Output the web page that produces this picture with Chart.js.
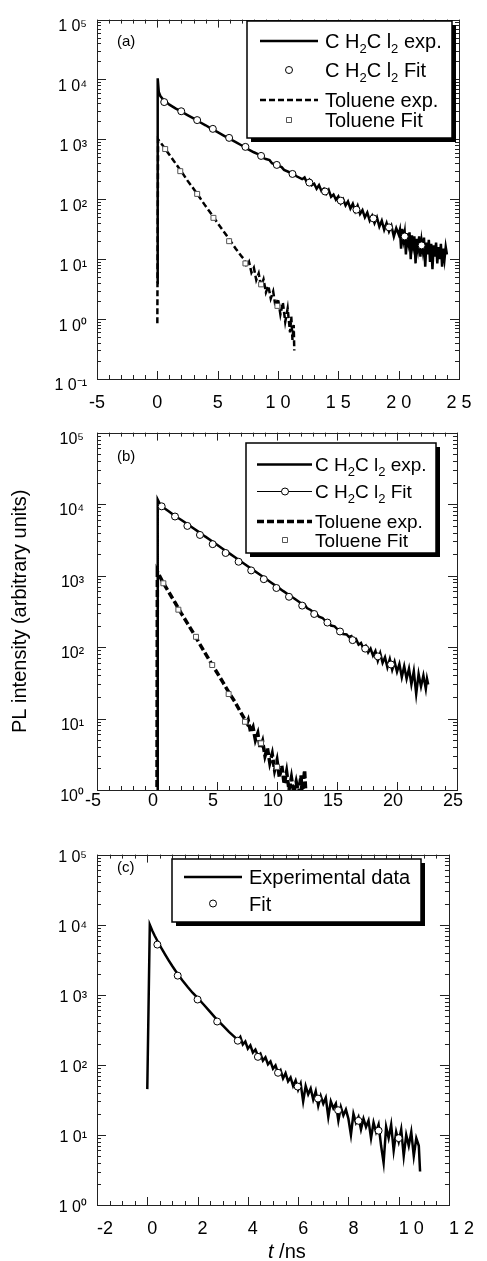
<!DOCTYPE html>
<html>
<head>
<meta charset="utf-8">
<script src="https://cdn.jsdelivr.net/npm/chart.js@4.4.1/dist/chart.umd.min.js"></script>
<style>
  html, body { margin: 0; padding: 0; background: #fff; }
  #wrap { position: relative; width: 487px; height: 1261px; }
  canvas { position: absolute; left: 0; }
</style>
</head>
<body>
<div id="wrap">
  <canvas id="chartA" width="487" height="410" style="top:0"></canvas>
  <canvas id="chartB" width="487" height="425" style="top:410px"></canvas>
  <canvas id="chartC" width="487" height="426" style="top:835px"></canvas>
</div>
<script>
// PL decays, three panels. values are [t (ns), intensity]

// --- panel (a)
const aCh2Exp = [[0,4],[0.03,10500],[0.12,6200],[0.25,5300],[0.5,4600],[1,3800],[1.5,3300],[2,2900],[2.5,2550],[3,2250],[3.5,1950],[4,1720],[4.5,1500],[5,1320],[5.5,1160],[6,1020],[6.5,900],[7,790],[7.5,690],[8,610],[8.4,560],[8.6,510],[9,470],[9.3,450],[9.5,400],[10,365],[10.3,345],[10.5,310],[11,280],[11.3,270],[11.5,245],[12,217],
  [12.2,232],[12.4,190],[12.6,212],[12.8,172],[13,182],[13.2,150],[13.4,172],[13.6,138],[13.8,150],[14,124],[14.2,144],[14.4,110],[14.6,120],[14.8,98],[15,112],[15.2,86],[15.4,100],[15.6,79],[15.8,92],[16,70],[16.2,84],[16.4,63],[16.6,78],[16.8,57],[17,66],[17.2,50],[17.4,60],[17.6,44],[17.8,53],[18,40],[18.2,50],[18.4,35],[18.6,44],[18.8,31],[19,40],[19.2,29],[19.4,36],[19.6,24],[19.8,33],[20,26],
  [20.1,31],[20.2,15],[20.3,32],[20.4,21],[20.5,28],[20.6,12],[20.7,27],[20.8,19],[20.9,28],[21,10],[21.1,25],[21.2,17],[21.3,24],[21.4,8.5],[21.5,22],[21.6,15],[21.7,24],[21.8,11],[21.9,20],[22,14],[22.1,23],[22.2,7.5],[22.3,19],[22.4,12],[22.5,21],[22.6,9],[22.7,18],[22.8,6.8],[22.9,17],[23,11],[23.1,19],[23.2,8.5],[23.3,16],[23.4,10],[23.5,18],[23.6,7.5],[23.7,15],[23.8,10],[23.9,16],[24,12]];
const aCh2Fit = [[0.57,4200],[1.98,2950],[3.3,2100],[4.6,1500],[5.95,1060],[7.3,750],[8.6,530],[9.9,375],[11.2,265],[12.6,190],[13.9,135],[15.2,95],[16.5,67],[17.9,48],[19.2,34],[20.5,24],[21.9,17]];
const aTolExp = [[0,0.85],[0.06,1000],[0.3,870],[0.6,720],[1,555],[1.5,400],[2,290],[2.5,205],[3,150],[3.5,108],[4,77],[4.5,56],[5,40],[5.5,29],[6,21],[6.5,15],[7,11],[7.2,10],[7.4,7.5],[7.6,9],[7.8,6],[8,7.2],[8.2,4.5],[8.4,5.8],[8.6,3.5],[8.8,4.6],[9,2.8],[9.2,3.6],[9.4,2.2],[9.6,2.9],[9.8,1.6],[10,2.2],[10.2,1.2],[10.4,1.9],[10.6,0.9],[10.8,1.5],[11,0.6],[11.1,1.1],[11.2,0.45],[11.3,0.8],[11.35,0.3]];
const aTolFit = [[0.65,690],[1.9,295],[3.3,123],[4.65,49],[5.95,20],[7.3,8.5],[8.6,3.8],[9.95,1.66]];

// --- panel (b)
const bCh2Exp = [[0,1],[0.06,11500],[0.2,10300],[0.5,9000],[1,7900],[1.5,6800],[2,6050],[2.5,5300],[3,4620],[3.5,4050],[4,3530],[4.5,3100],[5,2700],[5.5,2360],[6,2060],[6.5,1800],[7,1570],[7.5,1370],[8,1200],[8.5,1050],[9,920],[9.5,800],[10,700],[10.5,610],[11,535],[11.5,470],[12,410],[12.3,395],[12.5,350],[12.8,330],[13,310],[13.3,290],[13.5,265],[13.8,255],[14,235],[14.3,222],[14.5,200],[14.8,195],[15,180],[15.3,170],[15.5,152],[15.8,150],[16,138],[16.2,142],[16.4,120],[16.6,128],[16.8,108],[17,114],[17.2,95],[17.4,104],[17.6,84],[17.8,95],[18,76],[18.2,88],[18.4,64],[18.6,82],[18.8,60],[19,72],[19.2,52],[19.4,68],[19.6,48],[19.8,62],[20,45],[20.2,58],[20.4,38],[20.6,54],[20.8,36],[21,50],[21.2,30],[21.4,46],[21.6,22],[21.8,42],[22,28],[22.2,40],[22.4,26],[22.5,36],[22.6,30]];
const bCh2Fit = [[0.39,9300],[1.5,6700],[2.53,4950],[3.58,3700],[4.64,2750],[5.72,2070],[6.8,1560],[7.85,1180],[8.9,890],[9.95,670],[11,505],[12.1,380],[13.1,290],[14.2,220],[15.25,165],[16.3,125],[17.35,95],[18.4,74],[19.5,57]];
const bTolExp = [[0,0.8],[0.03,1150],[0.2,1000],[0.5,800],[1,580],[1.5,420],[2,300],[2.5,220],[3,160],[3.5,115],[4,83],[4.5,60],[5,44],[5.5,32],[6,23],[6.5,17],[7,12],[7.5,8.6],[7.6,9.5],[7.8,6.5],[8,7.6],[8.2,5],[8.4,6.2],[8.6,3.8],[8.8,4.8],[9,3],[9.2,3.9],[9.4,2.4],[9.6,3.2],[9.8,1.9],[10,2.6],[10.2,1.5],[10.4,2.2],[10.6,1.2],[10.8,1.8],[11,1],[11.2,1.5],[11.4,0.9],[11.6,1.3],[11.8,0.9],[12,1.6],[12.1,0.8],[12.3,1.9],[12.4,0.9]];
const bTolFit = [[0.53,780],[1.78,333],[3.25,139],[4.6,56],[5.97,22],[7.33,9],[8.67,4.5],[10,2.1]];

// --- panel (c)
const cExp = [[0,45],[0.1,10000],[0.2,8200],[0.3,6900],[0.4,5900],[0.55,4700],[0.7,3800],[0.85,3100],[1,2550],[1.2,2000],[1.4,1600],[1.6,1300],[1.8,1070],[2,900],[2.25,720],[2.5,570],[2.75,450],[3,365],[3.25,295],[3.5,245],
  [3.6,225],[3.7,250],[3.8,195],[3.9,215],[4,170],[4.1,190],[4.2,150],[4.3,165],[4.4,135],[4.5,145],[4.6,115],[4.7,128],[4.8,102],[4.9,112],[5,88],[5.1,98],[5.2,76],[5.3,84],[5.4,64],[5.5,76],[5.6,58],[5.7,66],[5.8,50],[5.9,60],[6,44],[6.1,54],[6.2,30],[6.3,50],[6.4,38],[6.5,46],[6.6,32],[6.7,42],[6.8,26],[6.9,36],[7,28],[7.1,34],[7.2,18],[7.3,30],[7.4,24],[7.5,28],[7.6,16],[7.7,25],[7.8,19],[7.9,23],[8,17],[8.1,10],[8.2,20],[8.3,15],[8.4,18],[8.5,12],[8.6,17],[8.7,13],[8.8,16],[8.9,9],[9,15],[9.1,11],[9.2,14],[9.3,7],[9.4,4],[9.5,13],[9.6,9],[9.7,14],[9.8,6],[9.9,11],[10,8],[10.1,12],[10.2,5],[10.3,10],[10.4,7],[10.5,11],[10.6,5],[10.7,9],[10.8,7],[10.85,3]];
const cFit = [[0.4,5200],[1.21,1875],[2,855],[2.78,415],[3.6,221],[4.4,130],[5.2,77],[5.98,49],[6.79,33],[7.59,22.5],[8.4,15.9],[9.2,11.5],[10,9]];

// tick labels
const xTicksA = [-5, 0, 5, 10, 15, 20, 25];
const xLabelsA = ['-5', '0', '5', '1 0', '1 5', '2 0', '2 5'];
const xLabelsB = ['-5', '0', '5', '10', '15', '20', '25'];
const xTicksC = [-2, 0, 2, 4, 6, 8, 10, 12];
const xLabelsC = ['-2', '0', '2', '4', '6', '8', '1 0', '1 2'];
const yTicksA = [0.1, 1, 10, 100, 1000, 10000, 100000];
const yLabelsA = ['1 0⁻¹', '1 0⁰', '1 0¹', '1 0²', '1 0³', '1 0⁴', '1 0⁵'];
const yTicksBC = [1, 10, 100, 1000, 10000, 100000];
const yLabelsB = ['10⁰', '10¹', '10²', '10³', '10⁴', '10⁵'];
const yLabelsC = ['1 0⁰', '1 0¹', '1 0²', '1 0³', '1 0⁴', '1 0⁵'];

const FAM = "'Liberation Sans', Arial, Helvetica, sans-serif";
const pts = arr => arr.map(([x, y]) => ({ x, y }));

// label text: "_2" means subscript 2
function drawRich(ctx, text, x, base, size) {
    const parts = text.split(/(_.)/).filter(Boolean);
    let cx = x;
    ctx.fillStyle = '#000';
    ctx.textBaseline = 'alphabetic';
    parts.forEach(p => {
        const sub = p[0] === '_';
        const s = sub ? p.slice(1) : p;
        ctx.font = (sub ? Math.round(size * 0.66) : size) + 'px ' + FAM;
        ctx.fillText(s, cx, sub ? base + size * 0.26 : base);
        cx += ctx.measureText(s).width;
    });
}

// box frame + inward ticks on all four sides
const frameTicks = {
    id: 'frameTicks',
    beforeDatasetsDraw(chart, args, o) {
        const { ctx, chartArea: a } = chart;
        const x = chart.scales.x, y = chart.scales.y;
        ctx.save();
        ctx.strokeStyle = '#222';
        ctx.lineWidth = 1;
        ctx.beginPath();
        const n = Math.round((x.max - x.min) / o.xMinor);
        for (let i = 0; i <= n; i++) {
            const v = x.min + i * o.xMinor;
            const px = Math.round(x.getPixelForValue(v)) + 0.5;
            const r = v / o.xMajor;
            const len = Math.abs(r - Math.round(r)) < 1e-6 ? 8 : 4;
            ctx.moveTo(px, a.bottom); ctx.lineTo(px, a.bottom - len);
            ctx.moveTo(px, a.top); ctx.lineTo(px, a.top + len);
        }
        const e0 = Math.round(Math.log10(y.min)), e1 = Math.round(Math.log10(y.max));
        for (let e = e0; e <= e1; e++) {
            for (let m = 1; m <= 9; m++) {
                const v = m * Math.pow(10, e);
                if (v > y.max * 1.001) continue;
                const py = Math.round(y.getPixelForValue(v)) + 0.5;
                const len = m === 1 ? 9 : 4;
                ctx.moveTo(a.left, py); ctx.lineTo(a.left + len, py);
                ctx.moveTo(a.right, py); ctx.lineTo(a.right - len, py);
            }
        }
        ctx.stroke();
        ctx.strokeRect(Math.round(a.left) + 0.5, Math.round(a.top) + 0.5, Math.round(a.right - a.left), Math.round(a.bottom - a.top));
        ctx.restore();
    }
};

const boxLegend = {
    id: 'boxLegend',
    afterDraw(chart, args, o) {
        const ctx = chart.ctx, b = o.box;
        ctx.save();
        ctx.fillStyle = '#000';
        ctx.fillRect(b.x + o.shadow, b.y + o.shadow, b.w, b.h);
        ctx.fillStyle = '#fff';
        ctx.fillRect(b.x, b.y, b.w, b.h);
        ctx.strokeStyle = '#000';
        ctx.lineWidth = 1.5;
        ctx.strokeRect(b.x, b.y, b.w, b.h);
        chart.data.datasets.forEach((ds, i) => {
            const row = o.rows[i];
            if (!row) return;
            ctx.strokeStyle = '#000';
            if (row.line) {
                ctx.setLineDash(ds.borderDash || []);
                ctx.lineWidth = row.lw || ds.borderWidth;
                ctx.beginPath();
                ctx.moveTo(o.lineX[0], row.y);
                ctx.lineTo(o.lineX[1], row.y);
                ctx.stroke();
                ctx.setLineDash([]);
            }
            if (ds.pointRadius > 0) {
                ctx.lineWidth = 1;
                ctx.fillStyle = '#fff';
                ctx.strokeStyle = ds.pointBorderColor;
                ctx.beginPath();
                if (ds.pointStyle === 'rect') ctx.rect(o.markX - 2.5, row.y - 2.5, 5, 5);
                else ctx.arc(o.markX, row.y, 3.5, 0, Math.PI * 2);
                ctx.fill();
                ctx.stroke();
            }
            drawRich(ctx, ds.label, o.textX, row.y + o.font * 0.36, o.font);
        });
        ctx.restore();
    }
};

const panelTag = {
    id: 'panelTag',
    afterDraw(chart, args, o) {
        const ctx = chart.ctx;
        ctx.save();
        ctx.fillStyle = '#000';
        ctx.font = o.size + 'px ' + FAM;
        ctx.textBaseline = 'middle';
        ctx.fillText(o.text, o.x, o.y);
        ctx.restore();
    }
};

// x axis title with an italic t
const xNote = {
    id: 'xNote',
    afterDraw(chart, args, o) {
        const ctx = chart.ctx;
        ctx.save();
        ctx.fillStyle = '#000';
        ctx.textBaseline = 'alphabetic';
        let cx = o.x;
        o.parts.forEach(p => {
            ctx.font = p[0] + ' ' + o.size + 'px ' + FAM;
            ctx.fillText(p[1], cx, o.y);
            cx += ctx.measureText(p[1]).width;
        });
        ctx.restore();
    }
};

function makePanel(id, cfg) {
    return new Chart(document.getElementById(id), {
        type: 'scatter',
        data: { datasets: cfg.datasets },
        options: {
            responsive: false,
            animation: false,
            events: [],
            layout: { padding: cfg.padding },
            plugins: {
                legend: { display: false },
                tooltip: { enabled: false },
                boxLegend: cfg.legend,
                panelTag: cfg.tag,
                frameTicks: cfg.frame,
                xNote: cfg.note || false
            },
            scales: {
                x: {
                    type: 'linear',
                    min: cfg.xMin,
                    max: cfg.xMax,
                    grid: { display: false, drawTicks: false },
                    border: { display: false },
                    afterBuildTicks: s => { s.ticks = cfg.xTicks.map(v => ({ value: v })); },
                    afterFit: s => { s.height = cfg.xHeight; },
                    ticks: {
                        autoSkip: false, maxRotation: 0, minRotation: 0,
                        padding: cfg.xPad,
                        align: cfg.xAlign || 'center',
                        labelOffset: cfg.xOffset || 0,
                        color: '#000',
                        font: { family: FAM, size: 18 },
                        callback: (v, i) => cfg.xLabels[i]
                    }
                },
                y: {
                    type: 'logarithmic',
                    min: cfg.yMin,
                    max: cfg.yMax,
                    grid: { display: false, drawTicks: false },
                    border: { display: false },
                    afterBuildTicks: s => { s.ticks = cfg.yTicks.map(v => ({ value: v })); },
                    afterFit: s => { s.width = 97; },
                    ticks: {
                        autoSkip: false,
                        padding: cfg.yPad,
                        labelOffset: cfg.yOffset,
                        color: '#000',
                        font: { family: FAM, size: 16 },
                        callback: (v, i) => cfg.yLabels[i]
                    },
                    title: cfg.yTitle || { display: false }
                }
            }
        },
        plugins: [frameTicks, boxLegend, panelTag, xNote]
    });
}

const expStyle = { showLine: true, borderColor: '#000', pointRadius: 0, tension: 0 };
const circleStyle = { showLine: false, pointStyle: 'circle', pointRadius: 3.5, pointBackgroundColor: '#fff', pointBorderColor: '#000', pointBorderWidth: 1, borderColor: '#000', borderWidth: 1.2 };
const squareStyle = { showLine: false, pointStyle: 'rect', pointRadius: 3.5, pointBackgroundColor: '#fff', pointBorderColor: '#555', pointBorderWidth: 1 };

makePanel('chartA', {
    padding: { left: 0, right: 28, top: 16, bottom: 0 },
    xMin: -5, xMax: 25, xTicks: xTicksA, xLabels: xLabelsA, xHeight: 31, xPad: 13,
    yMin: 0.1, yMax: 100000, yTicks: yTicksA, yLabels: yLabelsA, yPad: 10, yOffset: 7,
    frame: { xMinor: 1, xMajor: 5 },
    tag: { text: '(a)', x: 117, y: 42, size: 15 },
    legend: { box: { x: 247, y: 21, w: 205, h: 117 }, shadow: 4, lineX: [260, 318], markX: 289, textX: 325, font: 20,
              rows: [{ y: 41, line: true }, { y: 70 }, { y: 100, line: true }, { y: 120 }] },
    datasets: [
        { label: 'C H_2C l_2 exp.', data: pts(aCh2Exp), ...expStyle, borderWidth: 2.5, order: 3 },
        { label: 'C H_2C l_2 Fit', data: pts(aCh2Fit), ...circleStyle, order: 1 },
        { label: 'Toluene exp.', data: pts(aTolExp), ...expStyle, borderWidth: 2.5, borderDash: [6, 3], order: 4 },
        { label: 'Toluene Fit', data: pts(aTolFit), ...squareStyle, order: 2 }
    ]
});

makePanel('chartB', {
    padding: { left: 0, right: 30, top: 20, bottom: 0 },
    xMin: -5, xMax: 25, xTicks: xTicksA, xLabels: xLabelsB, xHeight: 45, xPad: 0, xOffset: -4,
    yMin: 1, yMax: 100000, yTicks: yTicksBC, yLabels: yLabelsB, yPad: 13, yOffset: 7,
    yTitle: { display: true, text: 'PL intensity (arbitrary units)', color: '#000', font: { family: FAM, size: 20 }, padding: { top: 8, bottom: 0 } },
    frame: { xMinor: 1, xMajor: 5 },
    tag: { text: '(b)', x: 117, y: 47, size: 15 },
    legend: { box: { x: 246, y: 33, w: 190, h: 110 }, shadow: 4, lineX: [257, 312], markX: 285, textX: 315, font: 19,
              rows: [{ y: 54.5, line: true }, { y: 81.5, line: true }, { y: 111.5, line: true }, { y: 130 }] },
    datasets: [
        { label: 'C H_2C l_2 exp.', data: pts(bCh2Exp), ...expStyle, borderWidth: 2.5, order: 3 },
        { label: 'C H_2C l_2 Fit', data: pts(bCh2Fit), ...circleStyle, order: 1 },
        { label: 'Toluene exp.', data: pts(bTolExp), ...expStyle, borderWidth: 3.5, borderDash: [7, 3], order: 4 },
        { label: 'Toluene Fit', data: pts(bTolFit), ...squareStyle, order: 2 }
    ]
});

makePanel('chartC', {
    padding: { left: 0, right: 27, top: 9, bottom: 0 },
    xMin: -2, xMax: 12, xTicks: xTicksC, xLabels: xLabelsC, xHeight: 56, xPad: 13, xAlign: 'start',
    yMin: 1, yMax: 100000, yTicks: yTicksBC, yLabels: yLabelsC, yPad: 10, yOffset: 3,
    frame: { xMinor: 0.5, xMajor: 2 },
    tag: { text: '(c)', x: 117, y: 33, size: 15 },
    note: { x: 268, y: 423, size: 20, parts: [['italic', 't'], ['normal', ' /ns']] },
    legend: { box: { x: 172, y: 24, w: 249, h: 63 }, shadow: 4, lineX: [184, 242], markX: 213, textX: 249, font: 20,
              rows: [{ y: 42, line: true }, { y: 68.5 }] },
    datasets: [
        { label: 'Experimental data', data: pts(cExp), ...expStyle, borderWidth: 2.5, order: 2 },
        { label: 'Fit', data: pts(cFit), ...circleStyle, order: 1 }
    ]
});
</script>
</body>
</html>
